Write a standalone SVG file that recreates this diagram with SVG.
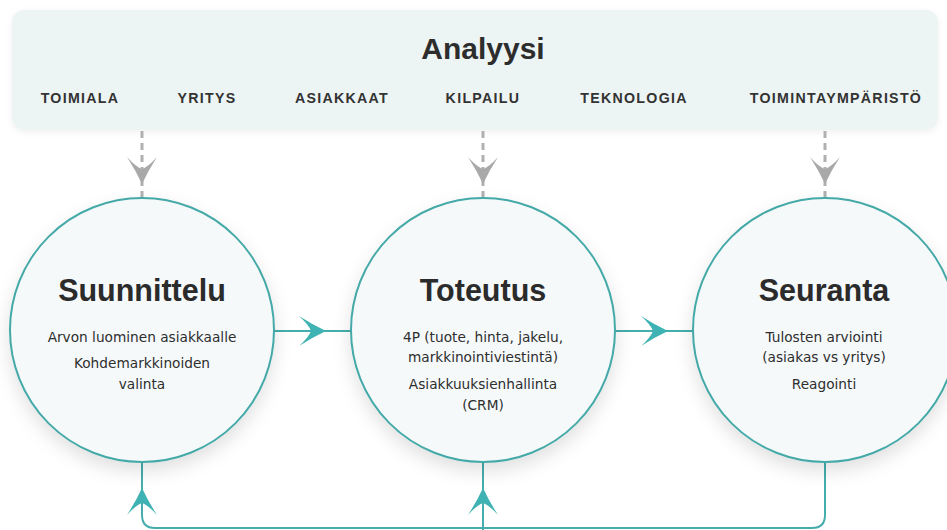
<svg xmlns="http://www.w3.org/2000/svg" xmlns:xlink="http://www.w3.org/1999/xlink" width="947" height="530" viewBox="0 0 947 530">
  <defs>
    <filter id="shadow" x="-30%" y="-30%" width="160%" height="170%">
      <feDropShadow dx="0" dy="8" stdDeviation="9" flood-color="#000" flood-opacity="0.12"/>
    </filter>
    <filter id="bshadow" x="-5%" y="-20%" width="110%" height="150%">
      <feDropShadow dx="0" dy="2" stdDeviation="3" flood-color="#000" flood-opacity="0.06"/>
    </filter>
    <path id="head" d="M0,0 Q-13,-6 -27,-15 Q-17,-6 -15,0 Q-17,6 -27,15 Q-13,6 0,0 Z"/>
  </defs>
  <style>
    .banner { fill: #edf5f4; }
    .title { font-family: "Liberation Sans", Arial, sans-serif; font-weight: bold; fill: #2d2d2d; text-anchor: middle; }
    .cat { font-family: "Liberation Sans", Arial, sans-serif; font-weight: bold; font-size: 14.2px; letter-spacing: 1.3px; fill: #333; text-anchor: middle; }
    .circle { fill: #f5f9fa; stroke: #45a9a8; stroke-width: 2; filter: url(#shadow); }
    .ctitle { font-family: "Liberation Sans", Arial, sans-serif; font-weight: bold; font-size: 30.5px; fill: #2b2b2b; text-anchor: middle; }
    .sub { font-family: "DejaVu Sans", "Liberation Sans", sans-serif; font-size: 13.7px; fill: #2e2e2e; text-anchor: middle; }
    .teal { fill: none; stroke: #45adad; stroke-width: 2; }
    .tealhead { fill: #3fb3b3; }
    .gray { fill: none; stroke: #b0b0b0; stroke-width: 3; stroke-dasharray: 7 5; }
    .grayhead { fill: #a9a9a9; }
  </style>
  <rect width="947" height="530" fill="#ffffff"/>

  <g id="analyysi">
    <rect class="banner" x="12" y="10" width="926" height="120" rx="12" ry="12" filter="url(#bshadow)"/>
    <text class="title" x="483" y="59" font-size="30">Analyysi</text>
    <text class="cat" x="80" y="103">TOIMIALA</text>
    <text class="cat" x="207" y="103">YRITYS</text>
    <text class="cat" x="342" y="103">ASIAKKAAT</text>
    <text class="cat" x="483" y="103">KILPAILU</text>
    <text class="cat" x="634" y="103">TEKNOLOGIA</text>
    <text class="cat" x="836" y="103">TOIMINTAYMPÄRISTÖ</text>
  </g>

  <g id="connectors">
    <line class="gray" x1="142" y1="131" x2="142" y2="198"/>
    <line class="gray" x1="483" y1="131" x2="483" y2="198"/>
    <line class="gray" x1="825" y1="131" x2="825" y2="198"/>
    <use href="#head" class="grayhead" transform="translate(142,184) rotate(90)"/>
    <use href="#head" class="grayhead" transform="translate(483,184) rotate(90)"/>
    <use href="#head" class="grayhead" transform="translate(825,184) rotate(90)"/>

    <line class="teal" x1="274" y1="331" x2="351" y2="331"/>
    <line class="teal" x1="615" y1="331" x2="693" y2="331"/>
    <use href="#head" class="tealhead" transform="translate(326,331)"/>
    <use href="#head" class="tealhead" transform="translate(668,331)"/>

    <path class="teal" d="M825,462 V515 Q825,528 812,528 H155 Q142,528 142,515 V462"/>
    <line class="teal" x1="483" y1="462" x2="483" y2="530"/>
    <use href="#head" class="tealhead" transform="translate(142,488) rotate(-90)"/>
    <use href="#head" class="tealhead" transform="translate(483,488) rotate(-90)"/>
  </g>

  <g id="suunnittelu">
    <circle class="circle" cx="142" cy="330" r="132"/>
    <text class="ctitle" x="142" y="301">Suunnittelu</text>
    <text class="sub" x="142" y="342">Arvon luominen asiakkaalle</text>
    <text class="sub" x="142" y="368">Kohdemarkkinoiden</text>
    <text class="sub" x="142" y="389">valinta</text>
  </g>

  <g id="toteutus">
    <circle class="circle" cx="483" cy="330" r="132"/>
    <text class="ctitle" x="483" y="301">Toteutus</text>
    <text class="sub" x="483" y="342">4P (tuote, hinta, jakelu,</text>
    <text class="sub" x="483" y="362">markkinointiviestintä)</text>
    <text class="sub" x="483" y="389">Asiakkuuksienhallinta</text>
    <text class="sub" x="483" y="410">(CRM)</text>
  </g>

  <g id="seuranta">
    <circle class="circle" cx="825" cy="330" r="132"/>
    <text class="ctitle" x="824" y="301">Seuranta</text>
    <text class="sub" x="824" y="342">Tulosten arviointi</text>
    <text class="sub" x="824" y="362">(asiakas vs yritys)</text>
    <text class="sub" x="824" y="389">Reagointi</text>
  </g>
</svg>
